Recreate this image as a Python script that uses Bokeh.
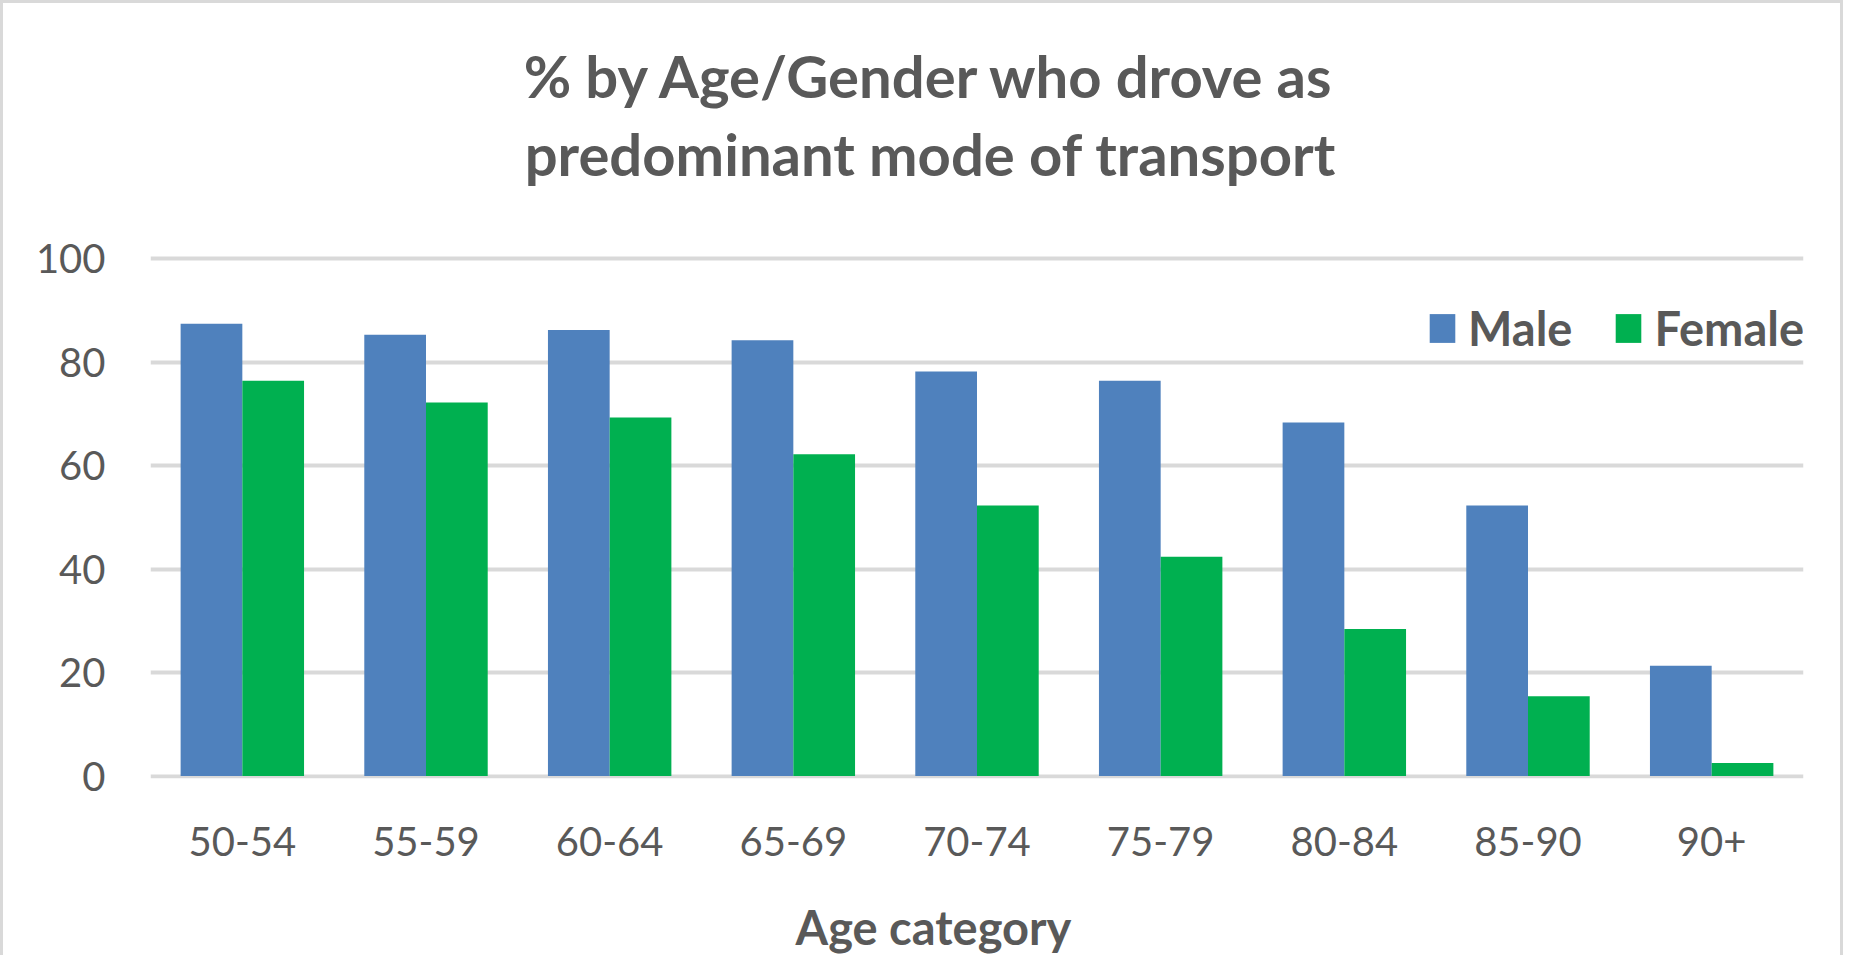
from bokeh.plotting import figure
from bokeh.models import (FactorRange, Range1d, Legend, LegendItem, Label, ColumnDataSource,
                          FixedTicker, LinearAxis)
from bokeh.transform import dodge
from bokeh.embed import file_html
from bokeh.resources import INLINE

categories = ["50-54", "55-59", "60-64", "65-69", "70-74", "75-79", "80-84", "85-90", "90+"]
male = [87.4, 85.3, 86.2, 84.2, 78.2, 76.4, 68.3, 52.3, 21.3]
female = [76.4, 72.2, 69.3, 62.2, 52.3, 42.4, 28.4, 15.4, 2.5]
y_ticks = [0, 20, 40, 60, 80, 100]
x_title = "Age category"
title_lines = ["% by Age/Gender who drove as", "predominant mode of transport"]

TEXT = "#595959"
FONT = "Lato"
W, H = 1843, 955

src = ColumnDataSource(dict(cat=categories, male=male, female=female))

# frame spans the whole height above the x-axis area so the title can sit inside it
p = figure(x_range=FactorRange(*categories), y_range=Range1d(-0.48, 149.3),
           width=W, height=H, output_backend="svg", toolbar_location=None,
           min_border_left=147, min_border_right=43, min_border_top=0, min_border_bottom=180)
p.outline_line_color = None
p.background_fill_color = "white"
p.border_fill_color = "white"
p.styles = {"box-sizing": "border-box", "border": "3px solid #D9D9D9", "border-bottom": "none"}

r1 = p.vbar(x=dodge("cat", -0.168, range=p.x_range), top="male", width=0.336, source=src,
            fill_color="#4F81BD", line_color=None)
r2 = p.vbar(x=dodge("cat", 0.168, range=p.x_range), top="female", width=0.336, source=src,
            fill_color="#00B050", line_color=None)

p.xgrid.grid_line_color = None
p.ygrid.grid_line_color = "#D9D9D9"
p.ygrid.grid_line_width = 4
p.ygrid.level = "underlay"

p.yaxis.ticker = FixedTicker(ticks=y_ticks)
for ax in (p.xaxis[0], p.yaxis[0]):
    ax.axis_line_color = None
    ax.major_tick_line_color = None
    ax.minor_tick_line_color = None
    ax.major_tick_out = 0
    ax.major_tick_in = 0
    ax.major_label_text_font = FONT
    ax.major_label_text_font_size = "40px"
    ax.major_label_text_color = TEXT
p.yaxis.major_label_standoff = 45
p.xaxis.major_label_standoff = 48

# x-axis title, centred on the whole chart (as in the reference) rather than on the plot area
title_pos = 4.263
ax2 = LinearAxis(ticker=FixedTicker(ticks=[title_pos]),
                 major_label_overrides={title_pos: x_title})
ax2.axis_line_color = None
ax2.major_tick_line_color = None
ax2.minor_tick_line_color = None
ax2.major_tick_out = 0
ax2.major_tick_in = 0
ax2.major_label_standoff = 40
ax2.major_label_text_font = FONT
ax2.major_label_text_font_style = "bold"
ax2.major_label_text_font_size = "47px"
ax2.major_label_text_color = TEXT
p.add_layout(ax2, "below")

for txt, yy in zip(title_lines, (703, 625)):
    p.add_layout(Label(x=780, y=yy, x_units="screen", y_units="screen", text=txt,
                       text_align="center", text_baseline="alphabetic",
                       text_font=FONT, text_font_style="bold",
                       text_font_size="58px", text_color=TEXT))

legend = Legend(items=[LegendItem(label="Male", renderers=[r1]),
                       LegendItem(label="Female", renderers=[r2])],
                orientation="horizontal", location=(1276, 422))
legend.border_line_color = None
legend.background_fill_alpha = 0
legend.padding = 0
legend.margin = 0
legend.spacing = 40
legend.glyph_width = 32
legend.glyph_height = 36
legend.label_standoff = 10
legend.label_text_font = FONT
legend.label_text_font_style = "bold"
legend.label_text_font_size = "47px"
legend.label_text_color = TEXT
p.add_layout(legend)

open("out.html", "w").write(file_html(p, INLINE))
